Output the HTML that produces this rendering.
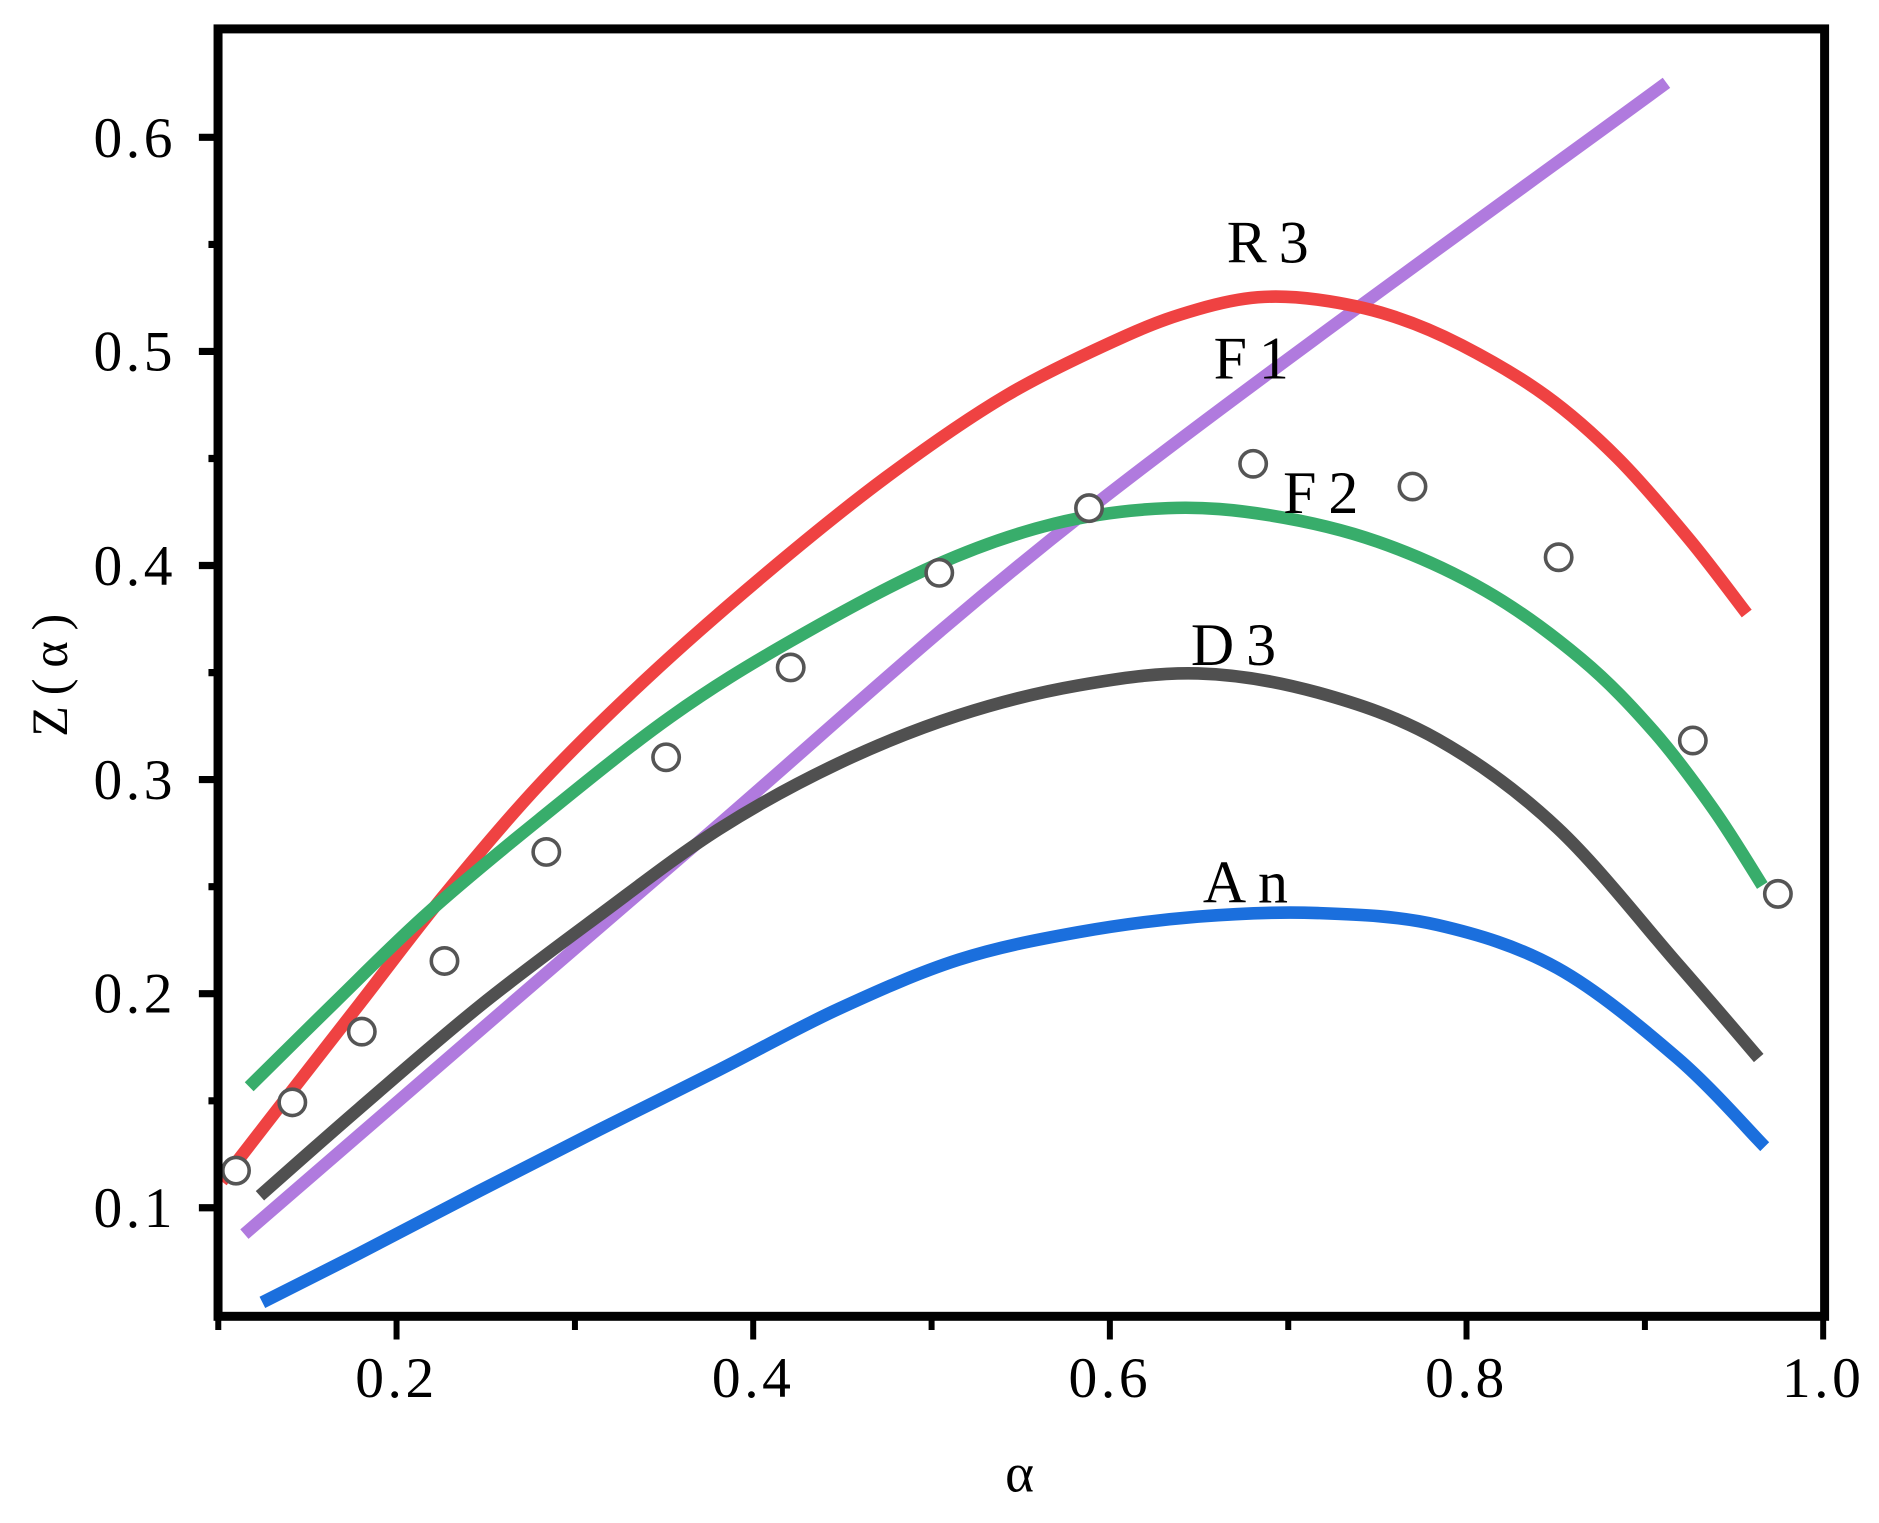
<!DOCTYPE html>
<html><head><meta charset="utf-8"><style>
html,body{margin:0;padding:0;background:#fff;}
svg{display:block;}
text{font-family:"Liberation Serif",serif;fill:#000;}
</style></head><body>
<svg id="s" width="1879" height="1523" viewBox="0 0 1568.4 1271" xmlns="http://www.w3.org/2000/svg">
<rect width="1568.4" height="1271" fill="#fff"/>
<g fill="none" stroke-width="10.5" stroke-linejoin="round" stroke-linecap="butt">
<polyline class="c" stroke="#b07ade" points="204,1030 577,708 909,425 1391,69"/>
<polyline class="c" stroke="#ef4242" points="185,986 240,915 300,838 370,748 450,655 540,566 640,478 740,398 840,330 940,280 1000,258 1050,248 1100,250 1160,263 1220,288 1290,330 1350,382 1410,450 1458,512"/>
<polyline class="c" stroke="#38ad6b" points="208,907 280,836 357,762 450,684 560,598 660,535 780,472 880,437 975,424 1060,430 1150,452 1240,493 1320,550 1380,610 1430,675 1471,739"/>
<polyline class="c" stroke="#505050" points="217,998 300,925 400,840 500,764 600,692 700,637 800,597 900,572 1000,562 1100,578 1200,617 1300,691 1400,804 1468,883"/>
<polyline class="c" stroke="#1b6fdd" points="219,1087 300,1046 400,994 500,943 600,893 700,842 800,801 900,778 1000,765 1100,762 1200,772 1300,808 1400,883 1473,957"/>
</g>
<g fill="#fff" stroke="#555" stroke-width="3">
<circle cx="197" cy="977" r="11"/><circle cx="244" cy="920" r="11"/><circle cx="302" cy="861" r="11"/>
<circle cx="371" cy="802" r="11"/><circle cx="456" cy="711" r="11"/><circle cx="556" cy="632" r="11"/>
<circle cx="660" cy="557" r="11"/><circle cx="784" cy="478" r="11"/><circle cx="909" cy="424" r="11"/>
<circle cx="1046" cy="387" r="11"/><circle cx="1179" cy="406" r="11"/><circle cx="1301" cy="465" r="11"/>
<circle cx="1413" cy="618" r="11"/><circle cx="1484" cy="746" r="11"/>
</g>
<g stroke="#000" fill="none">
<rect x="182" y="24" width="1341" height="1074.6" stroke-width="7.5"/>
<path stroke-width="6" d="M166,1008H182M166,829.3H182M166,650.6H182M166,471.9H182M166,293.2H182M166,114.5H182"/>
<path stroke-width="6" d="M174,918.7H182M174,740H182M174,561.3H182M174,382.6H182M174,203.9H182"/>
<path stroke-width="5" d="M331,1098V1118M628.7,1098V1118M926.4,1098V1118M1224.1,1098V1118M1521.8,1098V1118"/>
<path stroke-width="5" d="M182.2,1098V1110M479.9,1098V1110M777.6,1098V1110M1075.3,1098V1110M1373,1098V1110"/>
</g>
<g font-size="48" text-anchor="end" letter-spacing="3">
<text x="147" y="1024">0.1</text><text x="147" y="845">0.2</text><text x="147" y="667">0.3</text>
<text x="147" y="488">0.4</text><text x="147" y="309">0.5</text><text x="147" y="131">0.6</text>
</g>
<g font-size="48" text-anchor="middle" letter-spacing="3">
<text x="331" y="1166">0.2</text><text x="628.7" y="1166">0.4</text><text x="926.4" y="1166">0.6</text>
<text x="1224.1" y="1166">0.8</text><text x="1521.8" y="1166">1.0</text>
</g>
<text x="851" y="1245" font-size="46" text-anchor="middle">α</text>
<text transform="translate(56,559) rotate(-90)" font-size="42" text-anchor="middle" letter-spacing="9">Z(α)</text>
<g font-size="50" letter-spacing="10">
<text x="1024" y="219">R3</text>
<text x="1013" y="316">F1</text>
<text x="1071" y="428">F2</text>
<text x="994" y="555">D3</text>
<text x="1004" y="753">An</text>
</g>
</svg>
<script>
(function(){
var ns="http://www.w3.org/2000/svg";
var pls=document.querySelectorAll("polyline.c");
for(var k=0;k<pls.length;k++){
var pl=pls[k];
var pts=pl.getAttribute("points").trim().split(/\s+/).map(function(s){var a=s.split(",");return [+a[0],+a[1]];});
var d="M"+pts[0][0]+","+pts[0][1];
for(var i=0;i<pts.length-1;i++){
var p0=pts[i-1]||pts[i],p1=pts[i],p2=pts[i+1],p3=pts[i+2]||pts[i+1];
var c1x=p1[0]+(p2[0]-p0[0])/6,c1y=p1[1]+(p2[1]-p0[1])/6;
var c2x=p2[0]-(p3[0]-p1[0])/6,c2y=p2[1]-(p3[1]-p1[1])/6;
d+=" C"+c1x.toFixed(1)+","+c1y.toFixed(1)+" "+c2x.toFixed(1)+","+c2y.toFixed(1)+" "+p2[0]+","+p2[1];
}
var p=document.createElementNS(ns,"path");
p.setAttribute("d",d);p.setAttribute("stroke",pl.getAttribute("stroke"));
pl.parentNode.replaceChild(p,pl);
}
})();
</script>
</body></html>
